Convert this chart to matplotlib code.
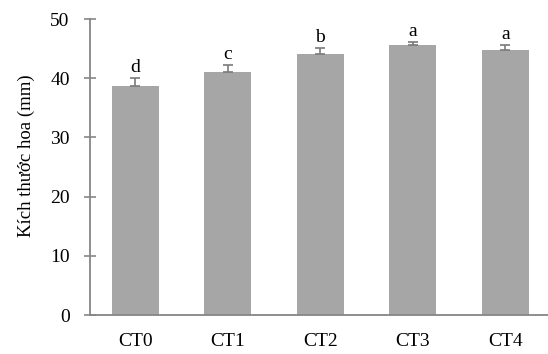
import matplotlib.pyplot as plt
import numpy as np

categories = ["CT0", "CT1", "CT2", "CT3", "CT4"]
values = [38.7, 41.0, 44.1, 45.6, 44.7]
errors = [1.3, 1.2, 1.0, 0.6, 0.9]
letters = ["d", "c", "b", "a", "a"]

plt.rcParams["font.family"] = ["Liberation Serif", "DejaVu Serif"]

fig = plt.figure(figsize=(5.48, 3.54), dpi=100)
ax = fig.add_axes([0.164, 0.110, 0.836, 0.836])

x = np.arange(len(categories))
ax.bar(x, values, width=0.51, color="#a6a6a6", zorder=2)
ax.errorbar(x, values, yerr=[np.zeros(len(errors)), errors], fmt="none",
            ecolor="#7a7a7a", elinewidth=1.2, capsize=3.5, capthick=1.2, zorder=3)

for xi, v, e, lab in zip(x, values, errors, letters):
    ax.annotate(lab, (xi, v + e), xytext=(0, 1.5), textcoords="offset points",
                ha="center", va="bottom", fontsize=14)

ax.set_xlim(-0.49, 4.46)
ax.set_ylim(0, 50)
ax.set_yticks(range(0, 51, 10))
ax.set_xticks(x)
ax.set_xticklabels(categories)
ax.set_ylabel("Kích thước hoa (mm)", fontsize=13.5)
ax.yaxis.set_label_coords(-0.12, 0.537)

for side in ["top", "right"]:
    ax.spines[side].set_visible(False)
for side in ["left", "bottom"]:
    ax.spines[side].set_color("#868686")
    ax.spines[side].set_linewidth(1.3)

ax.tick_params(axis="y", direction="inout", length=9, width=1.2, color="#868686",
               labelsize=14, pad=10)
ax.tick_params(axis="x", length=0, labelsize=14, pad=13)

fig.savefig("out.png", dpi=100)
